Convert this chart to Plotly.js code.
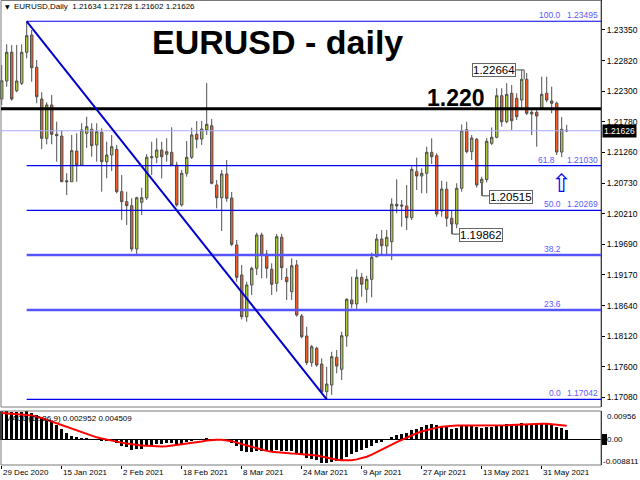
<!DOCTYPE html>
<html><head><meta charset="utf-8">
<script src="https://cdn.plot.ly/plotly-3.0.1.min.js"></script>
<style>html,body{margin:0;padding:0;background:#fff;overflow:hidden}#chart{width:640px;height:480px}</style>
</head><body><div id="chart"></div>
<script>
// ---- data (EURUSD daily, 29 Dec 2020 .. 7 Jun 2021) ----
const openP = [1.22168,1.22475,1.22965,1.22310,1.22436,1.22965,1.23261,1.22709,1.22168,1.21497,
1.22066,1.21565,1.21536,1.20773,1.20756,1.21280,1.21041,1.21582,1.21651,1.21383,
1.21600,1.21098,1.21212,1.21309,1.20586,1.20415,1.20347,1.19608,1.20405,1.20483,
1.21166,1.21173,1.21298,1.21224,1.21258,1.21041,1.20359,1.20900,1.21173,1.21565,
1.21485,1.21639,1.21712,1.20700,1.20483,1.20888,1.20478,1.19676,1.19164,1.18452,
1.18993,1.19278,1.19847,1.19522,1.19261,1.19022,1.19807,1.19124,1.18879,1.19335,
1.18464,1.18122,1.17667,1.17913,1.17644,1.17172,1.17286,1.17759,1.17554,1.18122,
1.18737,1.18669,1.19124,1.18920,1.19090,1.19476,1.19778,1.19659,1.19732,1.20371,
1.20359,1.20342,1.20142,1.20927,1.20854,1.20900,1.21258,1.21200,1.20256,1.20627,
1.20132,1.20034,1.20644,1.21644,1.21269,1.21480,1.20739,1.20794,1.21412,1.21514,
1.22224,1.21781,1.22265,1.22180,1.22151,1.22504,1.21912,1.21941,1.22009,1.22265,
1.22134,1.22095,1.21263,1.21634];
const highP = [1.22748,1.23102,1.23090,1.23090,1.23102,1.23495,1.23346,1.22834,1.22282,1.22112,
1.22236,1.21781,1.21639,1.20900,1.21554,1.21582,1.21753,1.21866,1.21753,1.21753,
1.21668,1.21439,1.21554,1.21383,1.20871,1.20586,1.20473,1.20500,1.20654,1.21224,
1.21439,1.21497,1.21439,1.21497,1.21685,1.21098,1.20956,1.21451,1.21678,1.21793,
1.21793,1.22441,1.21827,1.20785,1.20956,1.21127,1.20581,1.19761,1.19335,1.19049,
1.19305,1.19886,1.19886,1.19591,1.19363,1.19864,1.19864,1.19278,1.19449,1.19420,
1.18498,1.18281,1.17969,1.17940,1.17742,1.17598,1.17854,1.17884,1.18196,1.18766,
1.19135,1.19261,1.19193,1.19152,1.19544,1.19864,1.19932,1.19932,1.20473,1.20797,
1.20444,1.20700,1.21013,1.21166,1.20985,1.21354,1.21497,1.21241,1.20773,1.20756,
1.20273,1.20729,1.21733,1.21781,1.21554,1.21502,1.20842,1.21502,1.21682,1.22351,
1.22351,1.22436,1.22407,1.22265,1.22664,1.22612,1.22009,1.22009,1.22549,1.22549,
1.22378,1.22122,1.21861,1.21728];
const lowP = [1.22066,1.22378,1.22139,1.22282,1.22407,1.22863,1.22463,1.22095,1.21315,1.21395,
1.21395,1.21098,1.20751,1.20529,1.20751,1.20756,1.21041,1.21332,1.21183,1.21098,
1.20586,1.20814,1.20939,1.20558,1.20103,1.20017,1.19562,1.19517,1.20188,1.20444,
1.20871,1.21070,1.20814,1.21098,1.21030,1.20330,1.20330,1.20842,1.21144,1.21327,
1.21383,1.21554,1.20712,1.20302,1.19915,1.20415,1.19659,1.19049,1.18408,1.18367,
1.18822,1.19164,1.19107,1.19107,1.18822,1.18879,1.19078,1.18737,1.18737,1.18452,
1.18083,1.17627,1.17598,1.17598,1.17144,1.17042,1.17115,1.17486,1.17371,1.17940,
1.18595,1.18578,1.18793,1.18691,1.18783,1.19466,1.19522,1.19522,1.19420,1.20217,
1.19988,1.19932,1.20103,1.20615,1.20558,1.20558,1.21059,1.20159,1.20159,1.19988,
1.19862,1.19961,1.20586,1.21241,1.21127,1.20657,1.20515,1.20743,1.21383,1.21497,
1.21695,1.21753,1.21639,1.21810,1.22009,1.21895,1.21554,1.21354,1.21980,1.22112,
1.21924,1.21212,1.21178,1.21602];
const closeP = [1.22480,1.22965,1.22168,1.22475,1.22965,1.23249,1.22702,1.22207,1.21497,1.22066,
1.21565,1.21542,1.20756,1.20756,1.21286,1.21041,1.21639,1.21695,1.21371,1.21610,
1.21098,1.21212,1.21354,1.20586,1.20415,1.20347,1.19608,1.20483,1.20483,1.21173,
1.21183,1.21298,1.21183,1.21269,1.21041,1.20359,1.20900,1.21173,1.21554,1.21480,
1.21656,1.21736,1.20729,1.20483,1.20888,1.20473,1.19688,1.19124,1.18452,1.18993,
1.19278,1.19847,1.19505,1.19278,1.19005,1.19818,1.19288,1.19049,1.19322,1.18481,
1.18111,1.17667,1.17940,1.17627,1.17172,1.17303,1.17769,1.17610,1.18128,1.18749,
1.18669,1.19124,1.19005,1.19090,1.19466,1.19778,1.19664,1.19807,1.20371,1.20342,
1.20342,1.20142,1.20968,1.20854,1.20900,1.21258,1.21183,1.20205,1.20632,1.20132,
1.20034,1.20644,1.21627,1.21269,1.21502,1.20700,1.20797,1.21446,1.21514,1.22224,
1.21781,1.22248,1.21798,1.21866,1.22504,1.21924,1.21941,1.21878,1.22248,1.22151,
1.22095,1.21263,1.21651,1.21626];
const macdMain = [0.0095,0.00956,0.0093,0.0091,0.0091,0.0094,0.0090,0.0082,0.0074,0.0066,
0.0058,0.0049,0.0034,0.0022,0.0012,0.0007,0.0005,0.0003,0.0001,-0.0002,
-0.0005,-0.0007,-0.0008,-0.0014,-0.0022,-0.0028,-0.0036,-0.0034,-0.0032,-0.0024,
-0.0020,-0.0017,-0.0016,-0.0014,-0.0013,-0.0017,-0.0015,-0.0011,-0.0006,-0.0003,
0.0001,0.0004,-0.0001,-0.0004,-0.0004,-0.0006,-0.0014,-0.0025,-0.0039,-0.0043,
-0.0044,-0.0040,-0.0040,-0.0041,-0.0043,-0.0038,-0.0040,-0.0042,-0.0041,-0.0048,
-0.0055,-0.0064,-0.0068,-0.0072,-0.0080,-0.0081,-0.0078,-0.0076,-0.0070,-0.0060,
-0.0052,-0.0043,-0.0037,-0.0031,-0.0022,-0.0014,-0.0009,-0.0004,0.0006,0.0013,
0.0017,0.0020,0.0030,0.0035,0.0040,0.0047,0.0050,0.0047,0.0045,0.0040,
0.0036,0.0037,0.0044,0.0045,0.0046,0.0042,0.0038,0.0040,0.0042,0.0048,
0.0048,0.0052,0.0052,0.0052,0.0056,0.0053,0.0052,0.0050,0.0052,0.0052,
0.0050,0.0042,0.0037,0.002952];
const macdSignal = [0.0089,0.0088,0.0087,0.0086,0.0085,0.0082,0.0080,0.0077,0.0072,0.0066,
0.0060,0.0054,0.0047,0.0041,0.0035,0.0030,0.0025,0.0019,0.0013,0.0006,
0.0002,-0.0002,-0.0006,-0.0009,-0.0012,-0.0015,-0.0018,-0.0020,-0.0022,-0.0023,
-0.0024,-0.0025,-0.0025,-0.0024,-0.0022,-0.0019,-0.0017,-0.0015,-0.0013,-0.0010,
-0.0008,-0.0005,-0.0003,-0.0002,-0.0002,-0.0004,-0.0007,-0.0012,-0.0017,-0.0022,
-0.0027,-0.0032,-0.0036,-0.0040,-0.0043,-0.0045,-0.0047,-0.0048,-0.0049,-0.0050,
-0.0051,-0.0052,-0.0054,-0.0056,-0.0059,-0.0063,-0.0067,-0.0070,-0.0072,-0.0073,
-0.0072,-0.0069,-0.0065,-0.0060,-0.0053,-0.0045,-0.0036,-0.0028,-0.0019,-0.0010,
-0.0002,0.0006,0.0013,0.0020,0.0026,0.0031,0.0036,0.0039,0.0042,0.0044,
0.0045,0.0046,0.0046,0.0046,0.0046,0.0046,0.0046,0.0046,0.0045,0.0045,
0.0046,0.0047,0.0048,0.0049,0.0050,0.0051,0.0052,0.0052,0.0052,0.0052,
0.0051,0.0049,0.0047,0.004509];
const dateLabels = ["29 Dec 2020","15 Jan 2021","2 Feb 2021","18 Feb 2021","8 Mar 2021","24 Mar 2021","9 Apr 2021","27 Apr 2021","13 May 2021","31 May 2021"];
const dateLabelBar = [0,12,24,36,48,60,72,84,96,108];
const priceTicks = [1.23350,1.22820,1.22300,1.21780,1.21260,1.20730,1.20210,1.19690,1.19170,1.18640,1.18120,1.17600,1.17080];
const fibRatios = [100.0,61.8,50.0,38.2,23.6,0.0];
const keyLevel = 1.220;
const macdScale = [0.00956,0.00,-0.008811];
const labelledLows = [96,90];   // bars whose low is tagged
const labelledHigh = 104;       // bar whose high is tagged

// ---- layout helpers (pixels -> paper) ----
const W=640,H=480;
const px=v=>v/W, py=v=>1-v/H;
const N=closeP.length;
const idx=closeP.map((_,i)=>i);
const XR=[-0.34,119.86];
const hiIdx=highP.indexOf(Math.max(...highP));
const loIdx=lowP.indexOf(Math.min(...lowP));
const hi=highP[hiIdx], lo=lowP[loIdx];
const last=closeP[N-1];
const fmt=v=>v.toFixed(5);
const FONT="Liberation Sans, Arial, sans-serif";
const FIBTXT='#5a5aff';

const traces=[
 {type:'candlestick',x:idx,open:openP,high:highP,low:lowP,close:closeP,xaxis:'x',yaxis:'y',
  increasing:{line:{color:'#505050',width:1},fillcolor:'#a8c83a'},
  decreasing:{line:{color:'#505050',width:1},fillcolor:'#f25a22'},
  whiskerwidth:0,hoverinfo:'skip',showlegend:false},
 {type:'bar',x:idx,y:macdMain,xaxis:'x2',yaxis:'y2',marker:{color:'#000',line:{width:0}},width:0.6,hoverinfo:'skip',showlegend:false},
 {type:'scatter',mode:'lines',x:idx,y:macdSignal,xaxis:'x2',yaxis:'y2',line:{color:'#ff0000',width:2},hoverinfo:'skip',showlegend:false}
];

const shapes=[];
const ann=[];
// frames
shapes.push({type:'rect',xref:'paper',yref:'paper',x0:px(1),x1:px(601),y0:py(407),y1:py(0.5),line:{color:'#7a7a7a',width:1}});
shapes.push({type:'rect',xref:'paper',yref:'paper',x0:px(1),x1:px(601),y0:py(465),y1:py(411),line:{color:'#7a7a7a',width:1}});
// key level
shapes.push({type:'line',xref:'paper',yref:'y',x0:px(1),x1:px(601),y0:keyLevel,y1:keyLevel,line:{color:'#000',width:3}});
// bid line
shapes.push({type:'line',xref:'paper',yref:'y',x0:px(1),x1:px(601),y0:last,y1:last,line:{color:'#a8a8ff',width:1}});
// fib levels
fibRatios.forEach(r=>{
  const p=lo+(hi-lo)*r/100;
  const thick=(r===38.2||r===23.6);
  shapes.push({type:'line',xref:'x',yref:'y',x0:hiIdx,x1:XR[1],y0:p,y1:p,line:{color:thick?'#5555ff':'#0000ee',width:thick?2.5:1.2}});
  ann.push({xref:'paper',yref:'y',x:px(r===61.8?557:563),y:p,xanchor:'right',yanchor:'bottom',yshift:-1,text:r.toFixed(1),showarrow:false,font:{family:FONT,size:8.5,color:FIBTXT}});
  if(!thick) ann.push({xref:'paper',yref:'y',x:px(600),y:p,xanchor:'right',yanchor:'bottom',yshift:-1,text:fmt(p),showarrow:false,font:{family:FONT,size:8.5,color:FIBTXT}});
});
// trend (fib) line
shapes.push({type:'line',xref:'x',yref:'y',x0:hiIdx,y0:hi,x1:loIdx,y1:lo,line:{color:'#0000cc',width:2}});

// price tags
const tagFont={family:FONT,size:11.5,color:'#000'};
labelledLows.forEach(i=>{
  shapes.push({type:'line',xref:'x',yref:'y',x0:i+0.1,x1:i+0.1,y0:Math.min(openP[i],closeP[i]),y1:lowP[i],line:{color:'#444',width:1}});
  shapes.push({type:'line',xref:'x',yref:'y',x0:i+0.1,x1:i+1.45,y0:lowP[i],y1:lowP[i],line:{color:'#444',width:1}});
  ann.push({xref:'x',yref:'y',x:i+1.45,y:lowP[i],xanchor:'left',yanchor:'middle',yshift:-1,text:fmt(lowP[i]),showarrow:false,font:tagFont,bgcolor:'#fff',bordercolor:'#666',borderwidth:1,borderpad:0});
});
{
  const i=labelledHigh;
  shapes.push({type:'line',xref:'x',yref:'y',x0:i-1.1,x1:i+0.5,y0:highP[i],y1:highP[i],line:{color:'#444',width:1}});
  shapes.push({type:'line',xref:'x',yref:'y',x0:i+0.5,x1:i+0.5,y0:highP[i],y1:Math.max(openP[i],closeP[i]),line:{color:'#444',width:1}});
  ann.push({xref:'x',yref:'y',x:i-1.1,y:highP[i],xanchor:'right',yanchor:'middle',yshift:0,text:fmt(highP[i]),showarrow:false,font:tagFont,bgcolor:'#fff',bordercolor:'#666',borderwidth:1,borderpad:0});
}
// arrow under last bounce
ann.push({xref:'x',yref:'y',x:N-2,y:lo+(hi-lo)*0.618,yanchor:'top',yshift:-1,text:'⇧',showarrow:false,font:{family:'DejaVu Sans',size:25,color:'#0000ff'}});

// titles
ann.push({xref:'paper',yref:'paper',x:px(277),y:py(42),xanchor:'center',yanchor:'middle',text:'<b>EURUSD - daily</b>',showarrow:false,font:{family:FONT,size:34,color:'#000'}});
ann.push({xref:'paper',yref:'paper',x:px(456),y:py(98),xanchor:'center',yanchor:'middle',text:'<b>'+keyLevel.toFixed(3)+'</b>',showarrow:false,font:{family:FONT,size:23,color:'#000'}});
ann.push({xref:'paper',yref:'paper',x:px(3),y:py(7),xanchor:'left',yanchor:'middle',text:'▼',showarrow:false,font:{family:'DejaVu Sans',size:6,color:'#000'}});
ann.push({xref:'paper',yref:'paper',x:px(12),y:py(7),xanchor:'left',yanchor:'middle',
  text:'EURUSD,Daily  '+[openP[N-1],highP[N-1],lowP[N-1],closeP[N-1]].map(fmt).join(' '),showarrow:false,font:{family:FONT,size:8,color:'#000'}});
ann.push({xref:'paper',yref:'paper',x:px(3),y:py(418),xanchor:'left',yanchor:'middle',
  text:'MACD(12,26,9) '+macdMain[N-1].toFixed(6)+' '+macdSignal[N-1].toFixed(6),showarrow:false,font:{family:FONT,size:8,color:'#000'}});
// current price tag
ann.push({xref:'paper',yref:'y',x:px(602),y:last,xanchor:'left',yanchor:'middle',text:fmt(last),showarrow:false,bgcolor:'#000',borderpad:1,font:{family:FONT,size:8.5,color:'#fff'}});
// macd scale labels
const macdY=[416.5,439.3,461];
macdScale.forEach((v,k)=>{
  ann.push({xref:'paper',yref:'paper',x:px(k===2?601:605),y:py(macdY[k]),xanchor:'left',yanchor:'middle',text:(k===1?v.toFixed(2):String(v)),showarrow:false,font:{family:FONT,size:8,color:'#000'}});
});
shapes.push({type:'rect',xref:'paper',yref:'paper',x0:px(602),x1:px(607),y0:py(445),y1:py(434),fillcolor:'#000',line:{width:0}});
// date labels
dateLabels.forEach((t,k)=>{
  ann.push({xref:'x2',yref:'paper',x:dateLabelBar[k],y:py(466),xanchor:'left',yanchor:'top',xshift:-1,text:t,showarrow:false,font:{family:FONT,size:8,color:'#000'}});
});

const layout={
  width:W,height:H,margin:{l:0,r:0,t:0,b:0},paper_bgcolor:'#fff',plot_bgcolor:'#fff',
  showlegend:false,boxgap:0.3,bargap:0,
  xaxis:{domain:[0,px(601)],range:XR,anchor:'y',showgrid:false,zeroline:false,showticklabels:false,ticks:'',showline:false,rangeslider:{visible:false},fixedrange:true},
  xaxis2:{domain:[0,px(601)],range:XR,anchor:'y2',matches:'x',showgrid:false,zeroline:false,showticklabels:false,ticks:'outside',ticklen:3,tickcolor:'#000',tickmode:'array',tickvals:dateLabelBar,showline:false},
  yaxis:{domain:[py(407),1],range:[1.23858-407*0.0001707,1.23858],side:'right',anchor:'x',showgrid:false,zeroline:false,
    tickmode:'array',tickvals:priceTicks,ticktext:priceTicks.map(fmt),ticks:'outside',ticklen:3,tickcolor:'#000',
    showline:true,linecolor:'#000',linewidth:1,tickfont:{family:FONT,size:8.5,color:'#000'}},
  yaxis2:{domain:[py(465),py(411)],range:[macdScale[2],macdScale[0]],side:'right',anchor:'x2',showgrid:false,
    zeroline:true,zerolinecolor:'#000',zerolinewidth:1,showticklabels:false,tickmode:'array',tickvals:[0],ticks:'outside',ticklen:3,tickcolor:'#000',
    showline:true,linecolor:'#000',linewidth:1},
  shapes:shapes,annotations:ann
};
Plotly.newPlot('chart',traces,layout,{staticPlot:true,displayModeBar:false});
</script></body></html>
